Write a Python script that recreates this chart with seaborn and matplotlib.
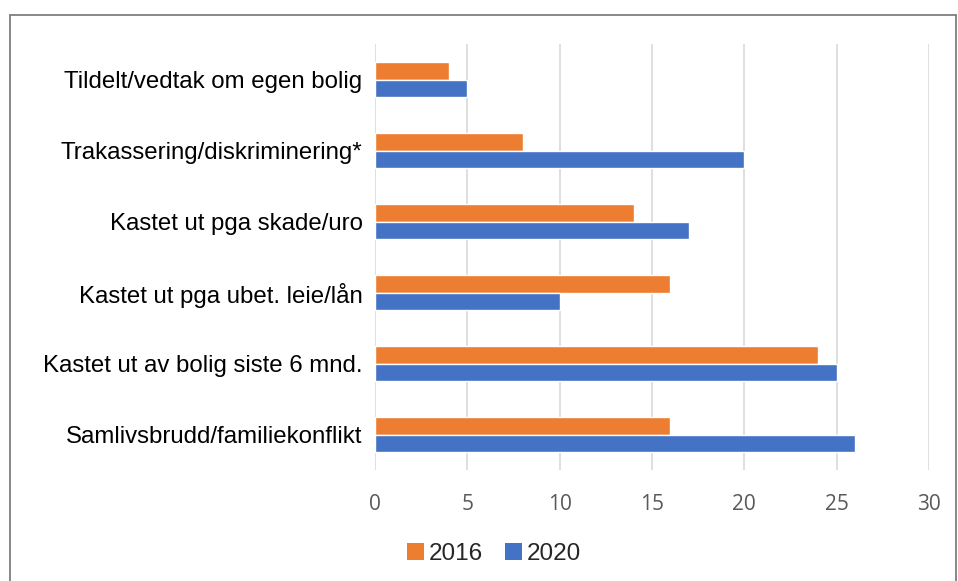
import numpy as np
import pandas as pd
import matplotlib.pyplot as plt
import seaborn as sns
from matplotlib.patches import Patch
from matplotlib.lines import Line2D

# data (top to bottom)
categories = [
    'Tildelt/vedtak om egen bolig',
    'Trakassering/diskriminering*',
    'Kastet ut pga skade/uro',
    'Kastet ut pga ubet. leie/lån',
    'Kastet ut av bolig siste 6 mnd.',
    'Samlivsbrudd/familiekonflikt',
]
values_2016 = [4, 8, 14, 16, 24, 16]
values_2020 = [5, 20, 17, 10, 25, 26]
years = ['2016', '2020']
colors = ['#ED7D31', '#4472C4']

df = pd.DataFrame({
    'kategori': categories * 2,
    'verdi': values_2016 + values_2020,
    'år': [years[0]] * len(categories) + [years[1]] * len(categories),
})

sns.set_theme(style='white')
plt.rcParams['font.family'] = ['Liberation Sans', 'DejaVu Sans']

fig = plt.figure(figsize=(9.58, 5.81), dpi=100)
ax = fig.add_axes([375 / 958, 1 - 470 / 581, (929 - 375) / 958, (470 - 44) / 581])

sns.barplot(data=df, x='verdi', y='kategori', hue='år', order=categories,
            hue_order=years, palette=colors, width=0.5, saturation=1,
            ax=ax, legend=False)

ax.set_xlim(0, 30)
ax.set_xticks(np.arange(0, 31, 5))
ax.grid(True, axis='x', color='#D9D9D9', linewidth=1.2)
ax.set_axisbelow(True)
for s in ax.spines.values():
    s.set_visible(False)
ax.set_xlabel('')
ax.set_ylabel('')
ax.tick_params(axis='y', length=0, pad=9, labelsize=17.3, labelcolor='#000000')
ax.tick_params(axis='x', length=0, pad=17, labelsize=15, labelcolor='#595959')
for lbl in ax.get_xticklabels():
    lbl.set_fontfamily(['Open Sans', 'DejaVu Sans'])

# legend at bottom
handles = [Patch(facecolor=c, edgecolor='none', label=y) for c, y in zip(colors, years)]
fig.legend(handles=handles, loc='center', bbox_to_anchor=(494 / 958, 1 - 554 / 581),
           ncol=2, frameon=False, fontsize=17.5, handlelength=0.7, handleheight=0.7,
           handletextpad=0.2, columnspacing=0.9)

# outer chart border
bx0, bx1 = 10 / 958, 956 / 958
by1 = 1 - 15 / 581
for xs, ys in [([bx0, bx0], [0, by1]), ([bx0, bx1], [by1, by1]), ([bx1, bx1], [0, by1])]:
    fig.add_artist(Line2D(xs, ys, color='#7F7F7F', linewidth=1.3, transform=fig.transFigure))

plt.savefig('out.png', dpi=100)
